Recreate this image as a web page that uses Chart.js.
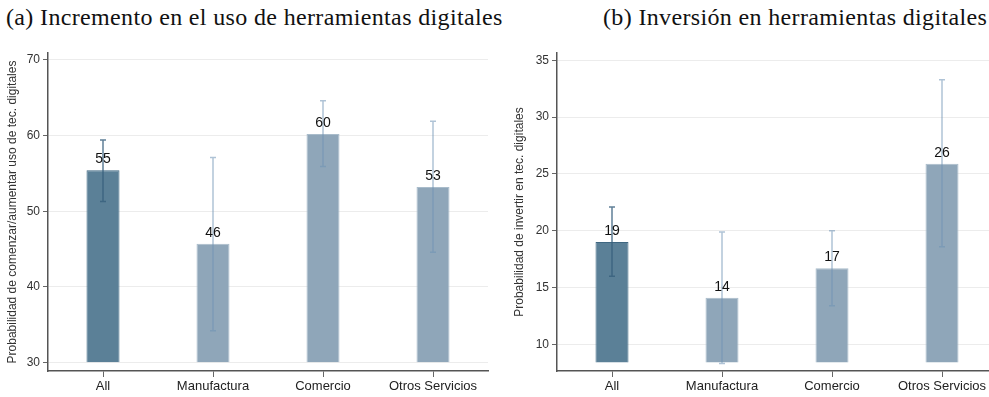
<!DOCTYPE html>
<html>
<head>
<meta charset="utf-8">
<script src="https://cdn.jsdelivr.net/npm/chart.js@4.4.1/dist/chart.umd.min.js"></script>
<style>
  html, body { margin: 0; padding: 0; background: #fff; }
  body { position: relative; width: 989px; height: 397px; overflow: hidden; }
  canvas { position: absolute; top: 0; }
  #chartUso { left: 0; }
  #chartInv { left: 495px; }
  .panel-title {
    position: absolute; top: 5px; white-space: nowrap;
    font-family: 'Liberation Serif', 'Times New Roman', serif;
    font-size: 24px; line-height: 24px; letter-spacing: 0.35px; color: #111;
  }
</style>
</head>
<body>
<div class="panel-title" style="left:6px">(a) Incremento en el uso de herramientas digitales</div>
<div class="panel-title" style="left:603px">(b) Inversión en herramientas digitales</div>
<canvas id="chartUso" width="495" height="397"></canvas>
<canvas id="chartInv" width="510" height="397"></canvas>
<script>
// Sector categories
const categories = ['All', 'Manufactura', 'Comercio', 'Otros Servicios'];

// (a) Probability of starting/increasing use of digital tools, with 95% intervals
const usoMean = [55.4, 45.7, 60.2, 53.2];
const usoLow  = [51.3, 34.2, 55.9, 44.6];
const usoHigh = [59.4, 57.1, 64.6, 61.9];
const usoTicks = [30, 40, 50, 60, 70];

// (b) Probability of investing in digital tools, with 95% intervals
const invMean = [19.0, 14.1, 16.7, 25.9];
const invLow  = [16.0, 8.3, 13.4, 18.6];
const invHigh = [22.1, 19.9, 20.0, 33.3];
const invTicks = [10, 15, 20, 25, 30, 35];

// Draws confidence intervals and rounded value labels on top of the bars
const intervalPlugin = {
  id: 'intervals',
  afterDatasetsDraw(chart, args, opts) {
    const { ctx } = chart;
    const y = chart.scales.y;
    const meta = chart.getDatasetMeta(0);
    const values = chart.data.datasets[0].data;
    ctx.save();
    meta.data.forEach((bar, i) => {
      const xp = bar.x;
      const yl = y.getPixelForValue(opts.low[i]);
      const yh = y.getPixelForValue(opts.high[i]);
      ctx.strokeStyle = i === 0 ? 'rgba(55,95,125,0.8)' : 'rgba(110,145,180,0.55)';
      ctx.lineWidth = 1.5;
      ctx.beginPath();
      ctx.moveTo(xp, yl); ctx.lineTo(xp, yh);
      ctx.moveTo(xp - 3, yh); ctx.lineTo(xp + 3, yh);
      ctx.moveTo(xp - 3, yl); ctx.lineTo(xp + 3, yl);
      ctx.stroke();
    });
    ctx.fillStyle = '#111';
    ctx.font = '14px "Liberation Sans", Arial, sans-serif';
    ctx.textAlign = 'center';
    ctx.textBaseline = 'alphabetic';
    meta.data.forEach((bar, i) => {
      ctx.fillText(String(Math.round(values[i])), bar.x, bar.y - 7);
    });
    ctx.restore();
  }
};

function makeChart(id, mean, low, high, ticks, yMin, yMax, base, yTitle, axisLeft, padRight, titlePad) {
  return new Chart(document.getElementById(id), {
    type: 'bar',
    data: {
      labels: categories,
      datasets: [{
        data: mean,
        base: base,
        backgroundColor: mean.map((_, i) => i === 0 ? '#5b8097' : '#8fa6b9'),
        borderColor: mean.map((_, i) => i === 0 ? '#3f6781' : '#a9bccb'),
        borderWidth: 1,
        barPercentage: 0.3,
        categoryPercentage: 1
      }]
    },
    options: {
      responsive: false,
      animation: false,
      layout: { padding: { top: 53, left: 0, right: padRight, bottom: 0 } },
      plugins: {
        legend: { display: false },
        tooltip: { enabled: false },
        intervals: { low: low, high: high }
      },
      scales: {
        x: {
          offset: true,
          grid: { offset: false, drawOnChartArea: false, tickColor: '#666', tickLength: 6, lineWidth: 1 },
          border: { color: '#555', width: 1.5 },
          ticks: { font: { family: 'Liberation Sans', size: 13 }, color: '#222', padding: 2, maxRotation: 0 },
          afterFit: s => { s.height = 26; }
        },
        y: {
          min: yMin,
          max: yMax,
          afterBuildTicks: s => { s.ticks = ticks.map(v => ({ value: v })); },
          afterFit: s => { s.width = axisLeft; },
          grid: { color: '#ececec', lineWidth: 1, tickColor: '#666', tickLength: 5 },
          border: { color: '#555', width: 1.5 },
          ticks: { font: { family: 'Liberation Sans', size: 12 }, color: '#333', padding: 3 },
          title: {
            display: true, text: yTitle, color: '#333',
            font: { family: 'Liberation Sans', size: 12 },
            padding: { top: titlePad, bottom: 0 }
          }
        }
      }
    },
    plugins: [intervalPlugin]
  });
}

makeChart('chartUso', usoMean, usoLow, usoHigh, usoTicks, 28.9, 70.9, 30,
  'Probabilidad de comenzar/aumentar uso de tec. digitales', 48, 7, 5.8);
makeChart('chartInv', invMean, invLow, invHigh, invTicks, 7.65, 35.65, 8.4,
  'Probabilidad de invertir en tec. digitales', 62, 8, 17.8);
</script>
</body>
</html>
